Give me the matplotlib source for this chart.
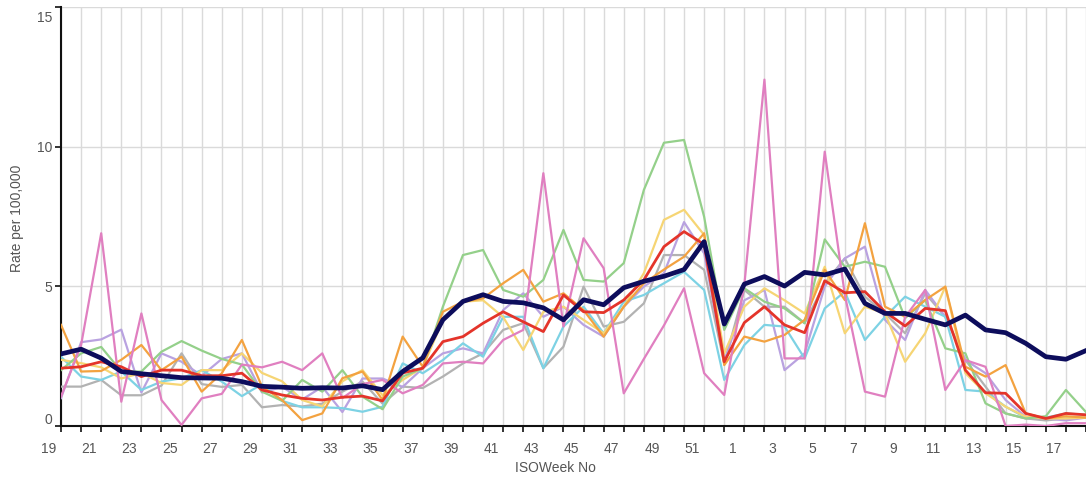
import numpy as np
import matplotlib
matplotlib.use("Agg")
import matplotlib.pyplot as plt
from matplotlib.transforms import ScaledTranslation

plt.rcParams['font.family'] = ['Liberation Sans', 'DejaVu Sans']

weeks = list(range(19, 53)) + list(range(1, 19))

navy = [2.58, 2.75, 2.43, 1.95, 1.87, 1.8, 1.73, 1.72, 1.71, 1.59,
        1.42, 1.39, 1.35, 1.37, 1.36, 1.44, 1.3, 1.95, 2.44, 3.8,
        4.46, 4.7, 4.46, 4.41, 4.23, 3.8, 4.52, 4.34, 4.95, 5.18,
        5.36, 5.6, 6.6, 3.65, 5.08, 5.35, 5.01, 5.5, 5.41, 5.62,
        4.39, 4.03, 4.03, 3.82, 3.62, 3.97, 3.44, 3.34, 2.96, 2.48,
        2.39, 2.7]
red = [2.07, 2.12, 2.3, 2.12, 1.77, 2.0, 2.0, 1.8, 1.8, 1.89,
       1.29, 1.11, 0.99, 0.93, 1.03, 1.07, 0.9, 1.9, 2.07, 3.02,
       3.2, 3.68, 4.09, 3.73, 3.38, 4.69, 4.09, 4.06, 4.51, 5.23,
       6.42, 6.96, 6.5, 2.3, 3.7, 4.27, 3.62, 3.34, 5.2, 4.77,
       4.81, 4.09, 3.58, 4.21, 4.13, 2.0, 1.19, 1.17, 0.45, 0.27,
       0.45, 0.4]
green = [2.0, 2.6, 2.83, 1.95, 1.95, 2.66, 3.04, 2.7, 2.4, 2.2,
         1.23, 0.9, 1.65, 1.23, 2.0, 1.05, 0.6, 1.77, 2.07, 4.27,
         6.12, 6.3, 4.87, 4.63, 5.23, 7.02, 5.23, 5.17, 5.83, 8.45,
         10.14, 10.24, 7.49, 3.44, 4.93, 4.45, 4.21, 3.68, 6.68, 5.7,
         5.88, 5.7, 3.86, 4.51, 2.78, 2.6, 0.81, 0.45, 0.27, 0.35,
         1.29, 0.5]
pink = [1.05, 2.9, 6.9, 0.87, 4.03, 0.93, 0.04, 0.99, 1.15, 2.2,
        2.1, 2.3, 2.0, 2.6, 1.0, 1.5, 1.65, 1.17, 1.47, 2.24,
        2.3, 2.24, 3.08, 3.44, 9.05, 3.56, 6.72, 5.65, 1.17, 2.4,
        3.6, 4.93, 1.89, 1.11, 5.05, 12.4, 2.42, 2.42, 9.82, 4.7,
        1.23, 1.05, 3.9, 4.87, 1.29, 2.36, 2.12, 0.0, 0.05, 0.0,
        0.1, 0.1]
orange = [3.62, 1.95, 1.97, 2.37, 2.9, 2.0, 2.48, 1.23, 1.89, 3.08,
          1.41, 0.93, 0.21, 0.45, 1.71, 1.95, 0.93, 3.2, 2.12, 4.09,
          4.45, 4.57, 5.11, 5.59, 4.45, 4.75, 4.15, 3.2, 4.27, 5.11,
          5.6, 6.06, 6.9, 2.18, 3.2, 3.02, 3.26, 3.8, 5.59, 4.51,
          7.26, 4.27, 3.91, 4.51, 4.99, 2.12, 1.77, 2.18, 0.45, 0.27,
          0.35, 0.3]
yellow = [2.37, 2.25, 2.1, 1.7, 1.9, 1.54, 1.47, 2.0, 2.0, 2.6,
          1.9, 1.6, 0.93, 0.7, 1.6, 2.0, 1.1, 1.65, 2.1, 3.8,
          4.45, 4.5, 3.9, 2.72, 4.09, 4.27, 3.8, 3.32, 4.27, 5.47,
          7.38, 7.74, 6.84, 2.6, 4.27, 4.93, 4.5, 4.03, 5.7, 3.32,
          4.27, 4.03, 2.3, 3.32, 4.99, 1.89, 1.17, 0.69, 0.33, 0.27,
          0.27, 0.3]
cyan = [2.48, 1.77, 1.65, 1.95, 1.29, 1.59, 1.71, 2.0, 1.59, 1.07,
        1.5, 0.9, 0.67, 0.67, 0.64, 0.51, 0.69, 2.24, 1.89, 2.36,
        2.96, 2.48, 3.91, 3.91, 2.07, 3.56, 4.27, 3.32, 4.45, 4.69,
        5.11, 5.52, 4.87, 1.65, 2.9, 3.62, 3.56, 2.42, 4.21, 4.81,
        3.08, 3.91, 4.63, 4.27, 3.91, 1.29, 1.23, 0.69, 0.3, 0.3,
        0.45, 0.4]
grey = [1.41, 1.41, 1.65, 1.1, 1.1, 1.45, 2.6, 1.5, 1.4, 1.47,
        0.67, 0.75, 0.7, 0.8, 1.23, 1.59, 0.8, 1.41, 1.36, 1.77,
        2.24, 2.6, 3.44, 3.68, 2.07, 2.84, 4.99, 3.56, 3.73, 4.39,
        6.12, 6.12, 5.59, 2.24, 4.87, 4.27, 4.27, 3.68, 5.11, 6.0,
        4.63, 4.03, 3.32, 4.75, 3.91, 2.36, 1.41, 0.45, 0.27, 0.2,
        0.27, 0.3]
lavender = [1.0, 3.0, 3.1, 3.45, 1.2, 2.6, 2.3, 1.8, 2.4, 2.6,
            1.2, 1.4, 0.95, 1.4, 0.5, 1.7, 1.7, 1.4, 2.07, 2.6,
            2.78, 2.6, 4.15, 4.75, 3.91, 4.27, 3.62, 3.2, 4.27, 4.99,
            5.47, 7.3, 6.18, 2.3, 4.5, 4.87, 2.0, 2.6, 4.99, 6.0,
            6.42, 3.8, 3.08, 4.87, 3.91, 2.36, 1.89, 0.93, 0.33, 0.27,
            0.2, 0.3]

W, H = 1086, 482
fig = plt.figure(figsize=(W / 100, H / 100), dpi=100)
ax = fig.add_axes([61 / W, 56 / H, 1025 / W, 419 / H])

x = np.arange(len(weeks))
thin = [
    (grey, '#b2b2b2'),
    (lavender, '#b9a2e0'),
    (cyan, '#7dd2e4'),
    (yellow, '#f6d574'),
    (green, '#94d08a'),
    (orange, '#f3a240'),
    (pink, '#e07fc0'),
]
for series, col in thin:
    ax.plot(x, series, color=col, lw=1.6, zorder=3)
ax.plot(x, red, color='#e4342a', lw=2.0, zorder=4)
ax.plot(x, navy, color='#0d0d5c', lw=3.4, zorder=5)

ax.set_xlim(0, 50.7)
ax.set_ylim(0, 15)
ax.set_xticks(x)
ax.set_xticklabels([str(w) if i % 2 == 0 else '' for i, w in enumerate(weeks)])
ax.set_yticks([0, 5, 10, 15])

ax.grid(True, color='#dadada', lw=1.0)
ax.set_axisbelow(True)
for s in ['top', 'right']:
    ax.spines[s].set_visible(False)
for s in ['left', 'bottom']:
    ax.spines[s].set_color('#111111')
    ax.spines[s].set_linewidth(1.5)

ax.tick_params(axis='x', direction='out', length=4.5, width=1.2, color='#111111',
               labelsize=10, labelcolor='#555555', pad=7)
ax.tick_params(axis='y', direction='out', length=4.5, width=1.2, color='#111111',
               labelsize=10, labelcolor='#555555', pad=2)

for lab in ax.get_xticklabels():
    lab.set_transform(lab.get_transform() + ScaledTranslation(-0.12, 0, fig.dpi_scale_trans))
ylabs = ax.get_yticklabels()
ylabs[0].set_transform(ylabs[0].get_transform() + ScaledTranslation(0, 0.08, fig.dpi_scale_trans))
ylabs[-1].set_transform(ylabs[-1].get_transform() + ScaledTranslation(0, -0.10, fig.dpi_scale_trans))

fig.text(555 / W, 1 - 468 / H, 'ISOWeek No', ha='center', va='center',
         fontsize=10, color='#555555')
fig.text(17 / W, 1 - 218 / H, 'Rate per 100,000', ha='center', va='center',
         rotation=90, fontsize=10, color='#555555')

fig.savefig('out.png', dpi=100)
